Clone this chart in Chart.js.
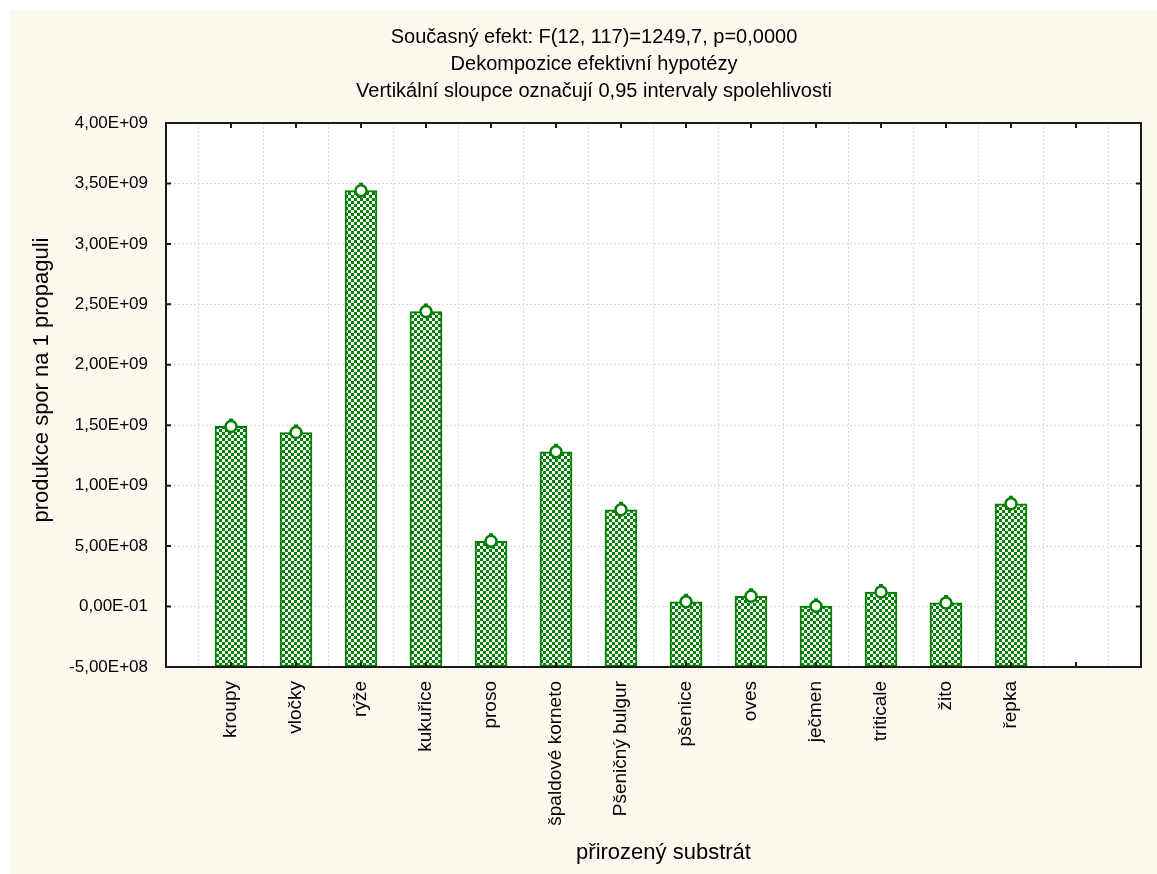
<!DOCTYPE html>
<html>
<head>
<meta charset="utf-8">
<script src="https://cdn.jsdelivr.net/npm/chart.js@4.4.0/dist/chart.umd.min.js"></script>
<style>
    html, body { margin: 0; padding: 0; background: #ffffff; }
    #wrap { width: 1157px; height: 874px; position: relative; }
</style>
</head>
<body>
<div id="wrap"><canvas id="chart"></canvas></div>
<script>
// Categories (slot 0 and slots 14-15 are empty on the original axis)
const categories = ['', 'kroupy', 'vločky', 'rýže', 'kukuřice', 'proso', 'špaldové korneto',
    'Pšeničný bulgur', 'pšenice', 'oves', 'ječmen', 'triticale', 'žito', 'řepka', '', ''];

// Group means (spores per propagule)
const means = [null, 1.49e9, 1.44e9, 3.44e9, 2.44e9, 0.54e9, 1.28e9,
    0.80e9, 0.04e9, 0.085e9, 0.003e9, 0.12e9, 0.03e9, 0.85e9, null, null];

// Half-width of the 0.95 confidence interval
const ciHalf = [null, 5.8e7, 5.8e7, 5.8e7, 5.8e7, 5.8e7, 5.8e7,
    5.8e7, 5.8e7, 5.8e7, 5.8e7, 5.8e7, 5.8e7, 5.8e7, null, null];

// Y axis ticks and their labels (as printed on the original)
const yTickValues = [-5e8, 0, 5e8, 1e9, 1.5e9, 2e9, 2.5e9, 3e9, 3.5e9, 4e9];
const yTickLabels = ['-5,00E+08', '0,00E-01', '5,00E+08', '1,00E+09', '1,50E+09',
    '2,00E+09', '2,50E+09', '3,00E+09', '3,50E+09', '4,00E+09'];

const titleLines = [
    'Současný efekt: F(12, 117)=1249,7, p=0,0000',
    'Dekompozice efektivní hypotézy',
    'Vertikální sloupce označují 0,95 intervaly spolehlivosti'
];
const xTitle = 'přirozený substrát';
const yTitle = 'produkce spor na 1 propaguli';

const Y_MIN = -5e8;
const Y_MAX = 4e9;
const GREEN = '#008000';
const CREAM = '#fdf9ee';
const FONT = '"Liberation Sans", Arial, sans-serif';

// Green / white checker fill like the original bars
function makeChecker() {
    const c = document.createElement('canvas');
    c.width = 6;
    c.height = 6;
    const g = c.getContext('2d');
    g.fillStyle = '#ffffff';
    g.fillRect(0, 0, 6, 6);
    g.fillStyle = GREEN;
    g.fillRect(0, 0, 3, 3);
    g.fillRect(3, 3, 3, 3);
    return g.createPattern(c, 'repeat');
}

// Cream page, white plot area
const backgroundPlugin = {
    id: 'background',
    beforeDraw(chart) {
        const { ctx, chartArea: a } = chart;
        ctx.save();
        ctx.fillStyle = '#ffffff';
        ctx.fillRect(0, 0, chart.width, chart.height);
        ctx.fillStyle = CREAM;
        ctx.fillRect(9, 10, chart.width - 9, chart.height - 10);
        ctx.fillStyle = '#ffffff';
        ctx.fillRect(a.left, a.top, a.right - a.left, a.bottom - a.top);
        ctx.restore();
    }
};

// Header lines and axis titles
const textPlugin = {
    id: 'texts',
    afterDraw(chart) {
        const { ctx, chartArea: a } = chart;
        ctx.save();
        ctx.fillStyle = '#000000';
        ctx.textAlign = 'center';
        ctx.textBaseline = 'middle';
        ctx.font = '20px ' + FONT;
        const ys = [37, 64, 91];
        titleLines.forEach((t, i) => ctx.fillText(t, 594, ys[i]));

        ctx.font = '22px ' + FONT;
        ctx.fillText(xTitle, (a.left + a.right) / 2 + 10, 853);

        ctx.translate(42, (a.top + a.bottom) / 2 - 15);
        ctx.rotate(-Math.PI / 2);
        ctx.fillText(yTitle, 0, 0);
        ctx.restore();
    }
};

// Confidence interval whiskers, drawn over the bars and under the markers
const errorBarPlugin = {
    id: 'errorBars',
    afterDatasetDraw(chart, args) {
        if (args.index !== 0) return;
        const { ctx, scales: { x, y } } = chart;
        ctx.save();
        ctx.strokeStyle = GREEN;
        ctx.lineWidth = 2;
        means.forEach((m, i) => {
            if (m === null) return;
            const px = x.getPixelForValue(i);
            const top = y.getPixelForValue(m + ciHalf[i]);
            const bot = y.getPixelForValue(m - ciHalf[i]);
            ctx.beginPath();
            ctx.moveTo(px, top);
            ctx.lineTo(px, bot);
            ctx.moveTo(px - 2, top);
            ctx.lineTo(px + 2, top);
            ctx.stroke();
        });
        ctx.restore();
    }
};

// Plot frame with inward tick marks on all four sides
const framePlugin = {
    id: 'frame',
    afterDraw(chart) {
        const { ctx, chartArea: a, scales: { x, y } } = chart;
        ctx.save();
        ctx.strokeStyle = '#1a1a1a';
        ctx.lineWidth = 2;
        ctx.strokeRect(a.left, a.top, a.right - a.left, a.bottom - a.top);
        ctx.beginPath();
        for (let i = 1; i <= 14; i++) {
            const px = x.getPixelForValue(i);
            ctx.moveTo(px, a.top);
            ctx.lineTo(px, a.top + 5);
            ctx.moveTo(px, a.bottom);
            ctx.lineTo(px, a.bottom - 5);
        }
        yTickValues.forEach(v => {
            const py = y.getPixelForValue(v);
            ctx.moveTo(a.left, py);
            ctx.lineTo(a.left + 5, py);
            ctx.moveTo(a.right, py);
            ctx.lineTo(a.right - 5, py);
        });
        ctx.stroke();
        ctx.restore();
    }
};

const ctx = document.getElementById('chart').getContext('2d');
new Chart(ctx, {
    data: {
        labels: categories,
        datasets: [{
            type: 'bar',
            data: means,
            base: Y_MIN,
            backgroundColor: makeChecker(),
            borderColor: GREEN,
            borderWidth: 2,
            borderSkipped: false,
            barThickness: 32,
            order: 2
        }, {
            type: 'line',
            data: means,
            showLine: false,
            pointStyle: 'circle',
            pointRadius: 5.5,
            pointBackgroundColor: '#ffffff',
            pointBorderColor: GREEN,
            pointBorderWidth: 2.5,
            order: 1
        }]
    },
    options: {
        responsive: true,
        maintainAspectRatio: false,
        animation: false,
        layout: {
            padding: { left: 0, right: 16, top: 123, bottom: 0 }
        },
        plugins: {
            legend: { display: false },
            tooltip: { enabled: false },
            title: { display: false }
        },
        scales: {
            x: {
                type: 'category',
                offset: false,
                afterFit: s => {
                    s.height = 207;
                    s.paddingLeft = 0;
                    s.paddingRight = 0;
                },
                grid: {
                    color: '#dadada',
                    lineWidth: 1,
                    drawTicks: false
                },
                border: { display: false, dash: [2, 2] },
                ticks: {
                    autoSkip: false,
                    maxRotation: 90,
                    minRotation: 90,
                    padding: 14,
                    color: '#000000',
                    font: { family: FONT, size: 19 }
                }
            },
            y: {
                type: 'linear',
                min: Y_MIN,
                max: Y_MAX,
                afterFit: s => {
                    s.width = 166;
                    s.paddingTop = 0;
                    s.paddingBottom = 0;
                },
                grid: {
                    color: '#dadada',
                    lineWidth: 1,
                    drawTicks: false
                },
                border: { display: false, dash: [2, 2] },
                ticks: {
                    stepSize: 5e8,
                    padding: 18,
                    color: '#000000',
                    font: { family: FONT, size: 17 },
                    callback: v => {
                        const i = yTickValues.findIndex(t => Math.abs(t - v) < 1);
                        return i >= 0 ? yTickLabels[i] : '';
                    }
                }
            }
        }
    },
    plugins: [backgroundPlugin, errorBarPlugin, framePlugin, textPlugin]
});
</script>
</body>
</html>
